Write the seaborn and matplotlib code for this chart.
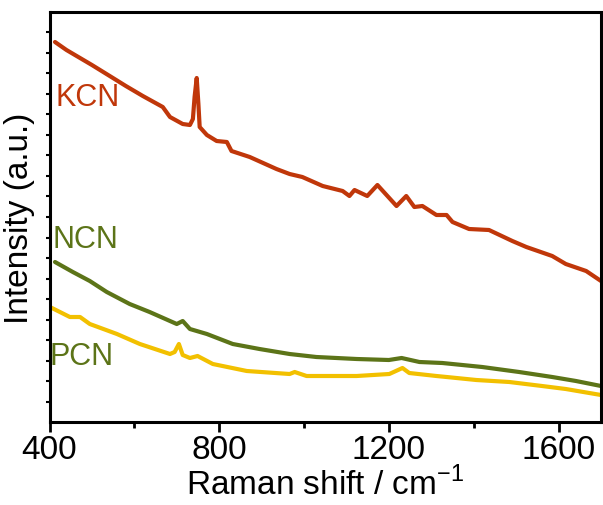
import numpy as np
import pandas as pd
import matplotlib
matplotlib.use("Agg")
import matplotlib.pyplot as plt
import seaborn as sns
from matplotlib.ticker import MultipleLocator, FixedLocator, NullFormatter

# ---- data (arbitrary intensity units) ----
kcn_x = [413, 440, 472, 500, 542, 580, 620, 667, 684, 714, 731, 738, 742, 747, 751, 754, 771, 794, 818, 829,
         872, 935, 966, 996, 1044, 1091, 1107, 1119, 1149, 1173, 1218, 1241, 1260, 1279,
         1312, 1336, 1350, 1389, 1436, 1491, 1524, 1585, 1617, 1665, 1700]
kcn_y = [380, 372, 364, 357, 346, 336, 326, 315, 305, 298, 297, 303, 325, 344, 318, 295, 287, 281, 280, 271,
         265, 253, 248, 245, 236, 231, 226, 232, 226, 237, 216, 226, 215, 216,
         207, 207, 200, 193, 192, 181, 175, 166, 158, 151, 141]

ncn_x = [413, 455, 495, 535, 589, 636, 700, 714, 731, 771, 832, 895, 966, 1029, 1124,
         1200, 1230, 1272, 1326, 1420, 1507, 1585, 1641, 1700]
ncn_y = [160, 150, 141, 130, 118, 110, 98, 101, 93, 88, 78, 73, 68, 65, 63,
         62, 64, 60, 59, 55, 50, 45, 41, 36]

pcn_x = [401, 448, 472, 495, 559, 613, 684, 695, 705, 714, 731, 749, 785, 865, 966, 978,
         1006, 1124, 1201, 1232, 1248, 1312, 1336, 1406, 1484, 1561, 1617, 1700]
pcn_y = [115, 105, 105, 98, 88, 78, 68, 70, 78, 67, 64, 66, 58, 51, 48, 50,
         46, 46, 48, 54, 49, 46, 45, 42, 40, 36, 33, 27]

names = ["KCN", "NCN", "PCN"]
colors = {"KCN": "#C0370A", "NCN": "#5C7418", "PCN": "#F2C000"}
label_colors = {"KCN": "#C0370A", "NCN": "#5C7418", "PCN": "#5C7418"}
label_pos = {"KCN": (413, 325), "NCN": (407, 183), "PCN": (400, 66)}

xticks = [400, 800, 1200, 1600]

df = pd.concat([
    pd.DataFrame({"x": kcn_x, "y": kcn_y, "s": "KCN"}),
    pd.DataFrame({"x": ncn_x, "y": ncn_y, "s": "NCN"}),
    pd.DataFrame({"x": pcn_x, "y": pcn_y, "s": "PCN"}),
], ignore_index=True)

sns.set_theme(style="ticks")
plt.rcParams["font.family"] = ["Liberation Sans", "DejaVu Sans"]
plt.rcParams["text.color"] = "black"
plt.rcParams["axes.labelcolor"] = "black"

fig = plt.figure(figsize=(6.03, 5.06), dpi=100)
ax = fig.add_axes([49.5 / 603, 83 / 506, (601 - 49.5) / 603, (423 - 13) / 506])

sns.lineplot(data=df, x="x", y="y", hue="s", palette=colors, sort=False,
             estimator=None, linewidth=3.0, legend=False, ax=ax)

for n in names:
    x, y = label_pos[n]
    ax.text(x, y, n, color=label_colors[n], fontsize=22, ha="left", va="center")

ax.set_xlim(400, 1700)
ax.set_ylim(0, 410)
ax.xaxis.set_major_locator(FixedLocator(xticks))
ax.xaxis.set_minor_locator(MultipleLocator(200))
ax.yaxis.set_major_locator(FixedLocator(np.linspace(20, 390, 19)))
ax.yaxis.set_major_formatter(NullFormatter())
ax.tick_params(axis="x", which="major", direction="out", length=7, width=2,
               labelsize=24, pad=2, colors="black")
ax.tick_params(axis="x", which="minor", direction="out", length=4, width=2, colors="black")
ax.tick_params(axis="y", which="major", direction="out", length=3, width=1.5, colors="black")
for sp in ax.spines.values():
    sp.set_visible(True)
    sp.set_linewidth(2.2)
    sp.set_color("black")

ax.set_xlabel("Raman shift / cm$^{\\mathregular{-1}}$", fontsize=24, labelpad=0, color="black")
ax.set_ylabel("Intensity (a.u.)", fontsize=24, labelpad=4, color="black")

fig.savefig("out.png", dpi=100, facecolor="white")
